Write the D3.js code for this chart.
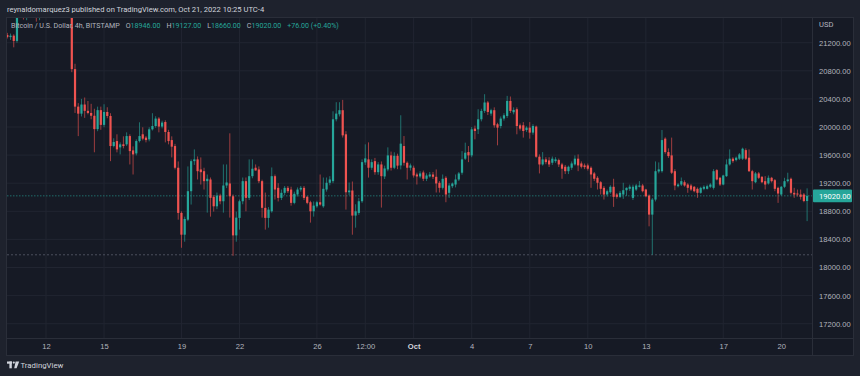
<!DOCTYPE html>
<html>
<head>
<meta charset="utf-8">
<script src="https://cdn.jsdelivr.net/npm/d3@7"></script>
<style>
  html, body { margin: 0; padding: 0; background: #1e222d; }
  svg { display: block; font-family: Roboto, "Noto Sans", sans-serif; }
</style>
</head>
<body>
<div id="chart"></div>
<script>
// BTC/USD 4h candles, Bitstamp, Sep 10 00:00 -> Oct 21 08:00 (UTC-4)
var openP = [
  21310,21280,21300,21225,21650,21760,21560,21680,21700,21640,
  21560,21660,21760,21950,22150,22380,22300,22380,22400,22350,
  22260,20824,20290,20190,20320,20230,20200,20160,19970,20240,
  20030,20214,20157,19729,19800,19710,19753,19753,19871,19667,
  19624,19800,19896,19849,19824,19967,20014,20120,20006,20071,
  19929,19814,19729,19420,18777,18467,18681,19086,19514,19539,
  19396,19371,19229,19253,19006,18871,19024,18943,19167,19196,
  19014,18457,18706,18943,19229,18991,19300,19420,19396,19229,
  18849,18706,18800,19300,19134,18991,19063,19134,19110,18920,
  19039,19110,19134,19006,18929,18800,18871,18929,18871,19110,
  19206,19229,20110,20181,20239,19896,19071,19096,18739,18777,
  18943,19496,19539,19420,19514,19357,19467,19296,19396,19596,
  19420,19590,19453,19729,19491,19420,19420,19324,19296,19353,
  19263,19296,19324,19291,19206,19134,19277,19063,19157,19181,
  19253,19349,19549,19643,19596,19977,19967,20110,20229,20349,
  20191,20239,20039,20014,20120,20157,20371,20210,20253,20024,
  20024,19957,19991,19920,20006,19577,19467,19539,19524,19491,
  19514,19529,19467,19434,19371,19420,19467,19549,19481,19453,
  19453,19420,19339,19277,19214,19134,19039,19071,19149,19039,
  19006,19039,19100,19120,18990,19110,19149,19167,19110,19024,
  18753,18967,19367,19371,19834,19643,19596,19371,19157,19181,
  19214,19181,19167,19149,19120,19063,19120,19120,19149,19134,
  19386,19277,19181,19300,19467,19549,19529,19549,19549,19671,
  19563,19371,19214,19339,19291,19229,19196,19277,19243,19134,
  19039,19149,19229,19263,19063,19053,19039,19039,18946
];
var highP = [
  21340,21330,21320,21700,21800,21790,21720,21780,21760,21680,
  21700,21790,22000,22200,22450,22480,22420,22500,22550,22420,
  22300,20900,20340,20400,20420,20370,20330,20260,20290,20290,
  20324,20281,20196,19839,19896,19781,19867,19924,19896,19724,
  19824,20067,19996,19870,19996,20196,20153,20140,20090,20096,
  19960,19867,19760,19510,18800,18724,19439,19539,19681,19581,
  19567,19420,19324,19281,19030,19067,19050,19467,19467,19910,
  19040,18796,18967,19281,19281,19539,19539,19467,19439,19250,
  19067,18860,19424,19324,19200,19110,19160,19160,19150,19080,
  19140,19160,19160,19020,18950,18940,18950,19324,19281,19281,
  19300,20224,20353,20353,20386,19940,19210,19224,18900,18990,
  19539,19753,19781,19540,19560,19500,19510,19450,19710,19650,
  19640,19620,20167,19871,19510,19480,19450,19350,19370,19380,
  19340,19360,19360,19396,19230,19324,19300,19200,19210,19324,
  19360,19657,19777,19729,20000,20020,20253,20260,20467,20371,
  20260,20280,20060,20150,20196,20443,20434,20280,20280,20050,
  20070,20010,20070,20040,20020,19610,19643,19570,19570,19580,
  19570,19550,19490,19460,19450,19510,19596,19610,19510,19480,
  19480,19440,19360,19300,19230,19160,19110,19170,19263,19060,
  19090,19206,19140,19180,19180,19190,19230,19190,19120,19040,
  18990,19510,19496,19957,19853,19696,19849,19400,19200,19281,
  19240,19200,19190,19160,19140,19150,19170,19180,19200,19400,
  19400,19290,19320,19539,19681,19570,19580,19630,19706,19696,
  19681,19390,19360,19360,19300,19300,19310,19290,19260,19150,
  19160,19277,19349,19280,19134,19110,19110,19060,19127
];
var lowP = [
  21260,21240,21134,21200,21560,21530,21520,21620,21590,21500,
  21520,21600,21720,21900,22100,22250,22200,22280,22300,22200,
  20780,20200,19870,20150,20130,20180,20110,19640,19940,19960,
  19996,20124,19514,19710,19639,19610,19696,19730,19467,19324,
  19596,19780,19810,19781,19796,19950,19990,19924,19980,19781,
  19753,19567,19396,18681,18281,18367,18660,18896,19460,19253,
  19181,19110,18781,18724,18796,18830,18900,18781,19130,18710,
  18167,18367,18539,18900,18800,18960,19270,19380,19200,18710,
  18539,18567,18780,18967,18940,18960,19030,19060,18880,18900,
  19010,19080,18960,18900,18639,18724,18850,18880,18850,19080,
  19170,19200,20080,20150,19850,18824,19030,18467,18567,18750,
  18920,19460,19280,19390,19320,19320,18853,19260,19370,19380,
  19400,19400,19396,19450,19253,19380,19280,19181,19270,19230,
  19230,19280,19260,19067,19067,19110,18929,18990,19130,19140,
  19230,19320,19530,19500,19570,19824,19900,20080,20200,20170,
  20160,19990,19739,19980,20090,20130,20200,20180,19896,19950,
  19849,19930,19834,19890,19563,19339,19450,19470,19430,19460,
  19490,19430,19263,19330,19330,19390,19450,19371,19410,19400,
  19380,19134,19230,19110,19040,18967,19010,19050,18863,18980,
  18990,18977,19020,19090,18960,19090,19140,19070,19000,18586,
  18181,18940,19340,19350,19620,19560,19330,19100,19140,19160,
  19150,19063,19090,19070,18991,19050,19100,19110,19130,19110,
  19240,19160,19170,19290,19450,19490,19510,19530,19530,19530,
  19360,19110,19200,19260,19200,19110,19180,19210,19086,18920,
  19020,19130,19210,19039,18991,19010,18967,18929,18660
];
var closeP = [
  21280,21300,21225,21650,21760,21560,21680,21700,21640,21560,
  21660,21760,21950,22150,22380,22300,22380,22400,22350,22260,
  20824,20290,20190,20320,20230,20200,20160,19970,20240,20030,
  20214,20157,19729,19786,19681,19753,19729,19871,19657,19610,
  19800,19871,19834,19814,19967,20014,20120,20006,20063,19929,
  19800,19720,19420,18777,18467,18691,19086,19514,19539,19371,
  19357,19229,19263,18991,18871,19024,18943,19167,19210,19014,
  18457,18710,18943,19229,18991,19300,19406,19381,19229,18849,
  18706,18824,19300,19110,18991,19063,19134,19086,18920,19049,
  19110,19134,18991,18920,18800,18881,18929,18896,19120,19206,
  19253,20110,20191,20239,19881,19071,19096,18739,18800,18943,
  19500,19553,19420,19500,19357,19467,19300,19410,19596,19420,
  19590,19450,19763,19491,19420,19453,19310,19296,19339,19263,
  19310,19324,19291,19196,19134,19263,19039,19167,19196,19253,
  19339,19539,19634,19596,19967,19943,20110,20229,20349,20214,
  20239,20024,19991,20120,20167,20371,20229,20243,20014,19977,
  19943,19991,19920,20014,19577,19467,19539,19500,19467,19549,
  19539,19467,19406,19371,19434,19481,19549,19453,19434,19429,
  19406,19324,19263,19206,19120,19039,19086,19149,19006,19006,
  19063,19100,19134,19150,19150,19167,19167,19086,19014,18753,
  18967,19371,19396,19814,19643,19586,19349,19167,19181,19229,
  19167,19134,19110,19086,19063,19134,19149,19157,19181,19371,
  19253,19181,19310,19467,19549,19514,19563,19610,19691,19549,
  19371,19229,19339,19277,19214,19181,19277,19229,19120,19053,
  19149,19229,19253,19063,19039,19039,19006,18946,19020
];

var priceTicks = [17200, 17600, 18000, 18400, 18800, 19200, 19600, 20000, 20400, 20800, 21200];
var timeTicks = [
  [2022, 8, 12, 0], [2022, 8, 15, 0], [2022, 8, 19, 0], [2022, 8, 22, 0],
  [2022, 8, 26, 0], [2022, 8, 28, 12], [2022, 9, 1, 0], [2022, 9, 4, 0],
  [2022, 9, 7, 0], [2022, 9, 10, 0], [2022, 9, 13, 0], [2022, 9, 17, 0], [2022, 9, 20, 0]
];
var timeLabels = ["12", "15", "19", "22", "26", "12:00", "Oct", "4", "7", "10", "13", "17", "20"];
var lastPrice = 19020;
var levelLine = 18181;

var headerText = "reynaldomarquez3 published on TradingView.com, Oct 21, 2022 10:25 UTC-4";
var legendTitle = "Bitcoin / U.S. Dollar, 4h, BITSTAMP";
var legendOHLC = [["O", "18946.00"], ["H", "19127.00"], ["L", "18660.00"], ["C", "19020.00"]];
var legendChange = "+76.00 (+0.40%)";

var W = 860, H = 376;
var plotL = 7, plotR = 812, plotT = 18, plotB = 338, axisR = 853, axisB = 355;
var UP = "#26a69a", DOWN = "#ef5350";

var startTime = Date.UTC(2022, 8, 10, 0);
var step = 4 * 3600 * 1000;
var candles = closeP.map(function (c, i) {
  return { t: new Date(startTime + i * step), o: openP[i], h: highP[i], l: lowP[i], c: c };
});

var svg = d3.select("#chart").append("svg")
  .attr("width", W)
  .attr("height", H);

// fondos
svg.append("rect").attr("width", W).attr("height", H).attr("fill", "#1e222d");
svg.append("rect")
  .attr("x", plotL).attr("y", plotT)
  .attr("width", axisR - plotL).attr("height", axisB - plotT)
  .attr("fill", "#161a25");

var x = d3.scaleUtc()
  .domain([new Date(Date.UTC(2022, 8, 12)), new Date(Date.UTC(2022, 9, 20))])
  .range([46, 781.3]);
var y = d3.scaleLinear()
  .domain([17200, 21200])
  .range([323.7, 42.7]);

var tickDates = timeTicks.map(function (d) { return new Date(Date.UTC(d[0], d[1], d[2], d[3])); });

// grid
var grid = svg.append("g").attr("class", "grid");
grid.selectAll("line.h")
  .data(priceTicks).enter().append("line")
  .attr("class", "h")
  .attr("x1", plotL).attr("x2", plotR)
  .attr("y1", function (d) { return y(d); })
  .attr("y2", function (d) { return y(d); })
  .attr("stroke", "#212531").attr("stroke-width", 1);
grid.selectAll("line.v")
  .data(tickDates).enter().append("line")
  .attr("class", "v")
  .attr("y1", plotT).attr("y2", plotB)
  .attr("x1", function (d) { return x(d); })
  .attr("x2", function (d) { return x(d); })
  .attr("stroke", "#212531").attr("stroke-width", 1);

svg.append("clipPath").attr("id", "plotClip")
  .append("rect")
  .attr("x", plotL).attr("y", plotT)
  .attr("width", plotR - plotL).attr("height", plotB - plotT);

var plot = svg.append("g").attr("clip-path", "url(#plotClip)");

// lineas horizontales
plot.append("line")
  .attr("x1", plotL).attr("x2", plotR)
  .attr("y1", y(levelLine)).attr("y2", y(levelLine))
  .attr("stroke", "#4b4f5c").attr("stroke-width", 1)
  .attr("stroke-dasharray", "2,2");
plot.append("line")
  .attr("x1", plotL).attr("x2", plotR)
  .attr("y1", y(lastPrice)).attr("y2", y(lastPrice))
  .attr("stroke", UP).attr("stroke-opacity", 0.6).attr("stroke-width", 1)
  .attr("stroke-dasharray", "1.5,1.5");

// velas
var bodyW = 2.2;
var candle = plot.selectAll("g.candle")
  .data(candles).enter().append("g")
  .attr("class", "candle");

candle.append("line")
  .attr("x1", function (d) { return x(d.t); })
  .attr("x2", function (d) { return x(d.t); })
  .attr("y1", function (d) { return y(d.h); })
  .attr("y2", function (d) { return y(d.l); })
  .attr("stroke", function (d) { return d.c >= d.o ? UP : DOWN; })
  .attr("stroke-opacity", 0.7)
  .attr("stroke-width", 0.9);

candle.append("rect")
  .attr("x", function (d) { return x(d.t) - bodyW / 2; })
  .attr("width", bodyW)
  .attr("y", function (d) { return y(Math.max(d.o, d.c)); })
  .attr("height", function (d) { return Math.max(0.8, Math.abs(y(d.o) - y(d.c))); })
  .attr("fill", function (d) { return d.c >= d.o ? UP : DOWN; });

// marco
svg.append("line").attr("x1", plotR + 0.5).attr("x2", plotR + 0.5)
  .attr("y1", plotT).attr("y2", axisB).attr("stroke", "#2a2e39");
svg.append("line").attr("x1", plotL).attr("x2", axisR)
  .attr("y1", plotB + 0.5).attr("y2", plotB + 0.5).attr("stroke", "#2a2e39");
svg.append("rect")
  .attr("x", plotL - 0.5).attr("y", plotT - 0.5)
  .attr("width", axisR - plotL + 1).attr("height", axisB - plotT + 1)
  .attr("fill", "none").attr("stroke", "#2a2e39");

// eje de precios
var yAxis = d3.axisRight(y)
  .tickValues(priceTicks)
  .tickFormat(d3.format(".2f"))
  .tickSize(0)
  .tickPadding(0);
var yAxisG = svg.append("g")
  .attr("transform", "translate(" + 819 + ",0)")
  .call(yAxis);
yAxisG.select(".domain").remove();
yAxisG.selectAll("text")
  .attr("fill", "#b2b5be")
  .style("font-size", "7.6px");

svg.append("text")
  .attr("x", 819).attr("y", 26.5)
  .attr("fill", "#b2b5be")
  .style("font-size", "7.6px")
  .text("USD");

// etiqueta del ultimo precio
svg.append("rect")
  .attr("x", plotR + 1).attr("y", y(lastPrice) - 6.3)
  .attr("width", 39).attr("height", 12.6)
  .attr("rx", 1)
  .attr("fill", UP);
svg.append("text")
  .attr("x", 819).attr("y", y(lastPrice))
  .attr("dy", "0.35em")
  .attr("fill", "#ffffff")
  .style("font-size", "7.6px")
  .text(d3.format(".2f")(lastPrice));

// eje de tiempo
var xAxis = d3.axisBottom(x)
  .tickValues(tickDates)
  .tickFormat(function (d, i) { return timeLabels[i]; })
  .tickSize(0)
  .tickPadding(0);
var xAxisG = svg.append("g")
  .attr("transform", "translate(0," + 343.5 + ")")
  .call(xAxis);
xAxisG.select(".domain").remove();
xAxisG.selectAll("text")
  .attr("fill", function (d, i) { return timeLabels[i] === "Oct" ? "#d1d4dc" : "#b2b5be"; })
  .style("font-weight", function (d, i) { return timeLabels[i] === "Oct" ? "bold" : "normal"; })
  .style("font-size", "7.6px");

// cabecera y leyenda
svg.append("text")
  .attr("x", 7).attr("y", 12)
  .attr("fill", "#d1d4dc")
  .style("font-size", "7.6px")
  .text(headerText);

var legend = svg.append("text")
  .attr("x", 11).attr("y", 27.6)
  .style("font-size", "7.1px");
legend.append("tspan").attr("fill", "#b2b5be").text(legendTitle);
legendOHLC.forEach(function (p, i) {
  legend.append("tspan").attr("dx", 6).attr("fill", "#b2b5be").text(p[0]);
  legend.append("tspan").attr("fill", UP).text(p[1]);
});
legend.append("tspan").attr("dx", 6).attr("fill", UP).text(legendChange);

// logo TradingView
var logo = svg.append("g").attr("fill", "#d1d4dc");
logo.append("rect").attr("x", 7).attr("y", 361.5).attr("width", 5).attr("height", 2.2);
logo.append("rect").attr("x", 9.4).attr("y", 361.5).attr("width", 2.4).attr("height", 6.8);
logo.append("circle").attr("cx", 13.8).attr("cy", 362.6).attr("r", 1.1);
logo.append("path").attr("d", "M15.6,361.5 L19.2,361.5 L16.6,368.3 L14.2,368.3 Z");
svg.append("text")
  .attr("x", 20.5).attr("y", 368)
  .attr("fill", "#d1d4dc")
  .style("font-size", "7.8px")
  .text("TradingView");
</script>
</body>
</html>
